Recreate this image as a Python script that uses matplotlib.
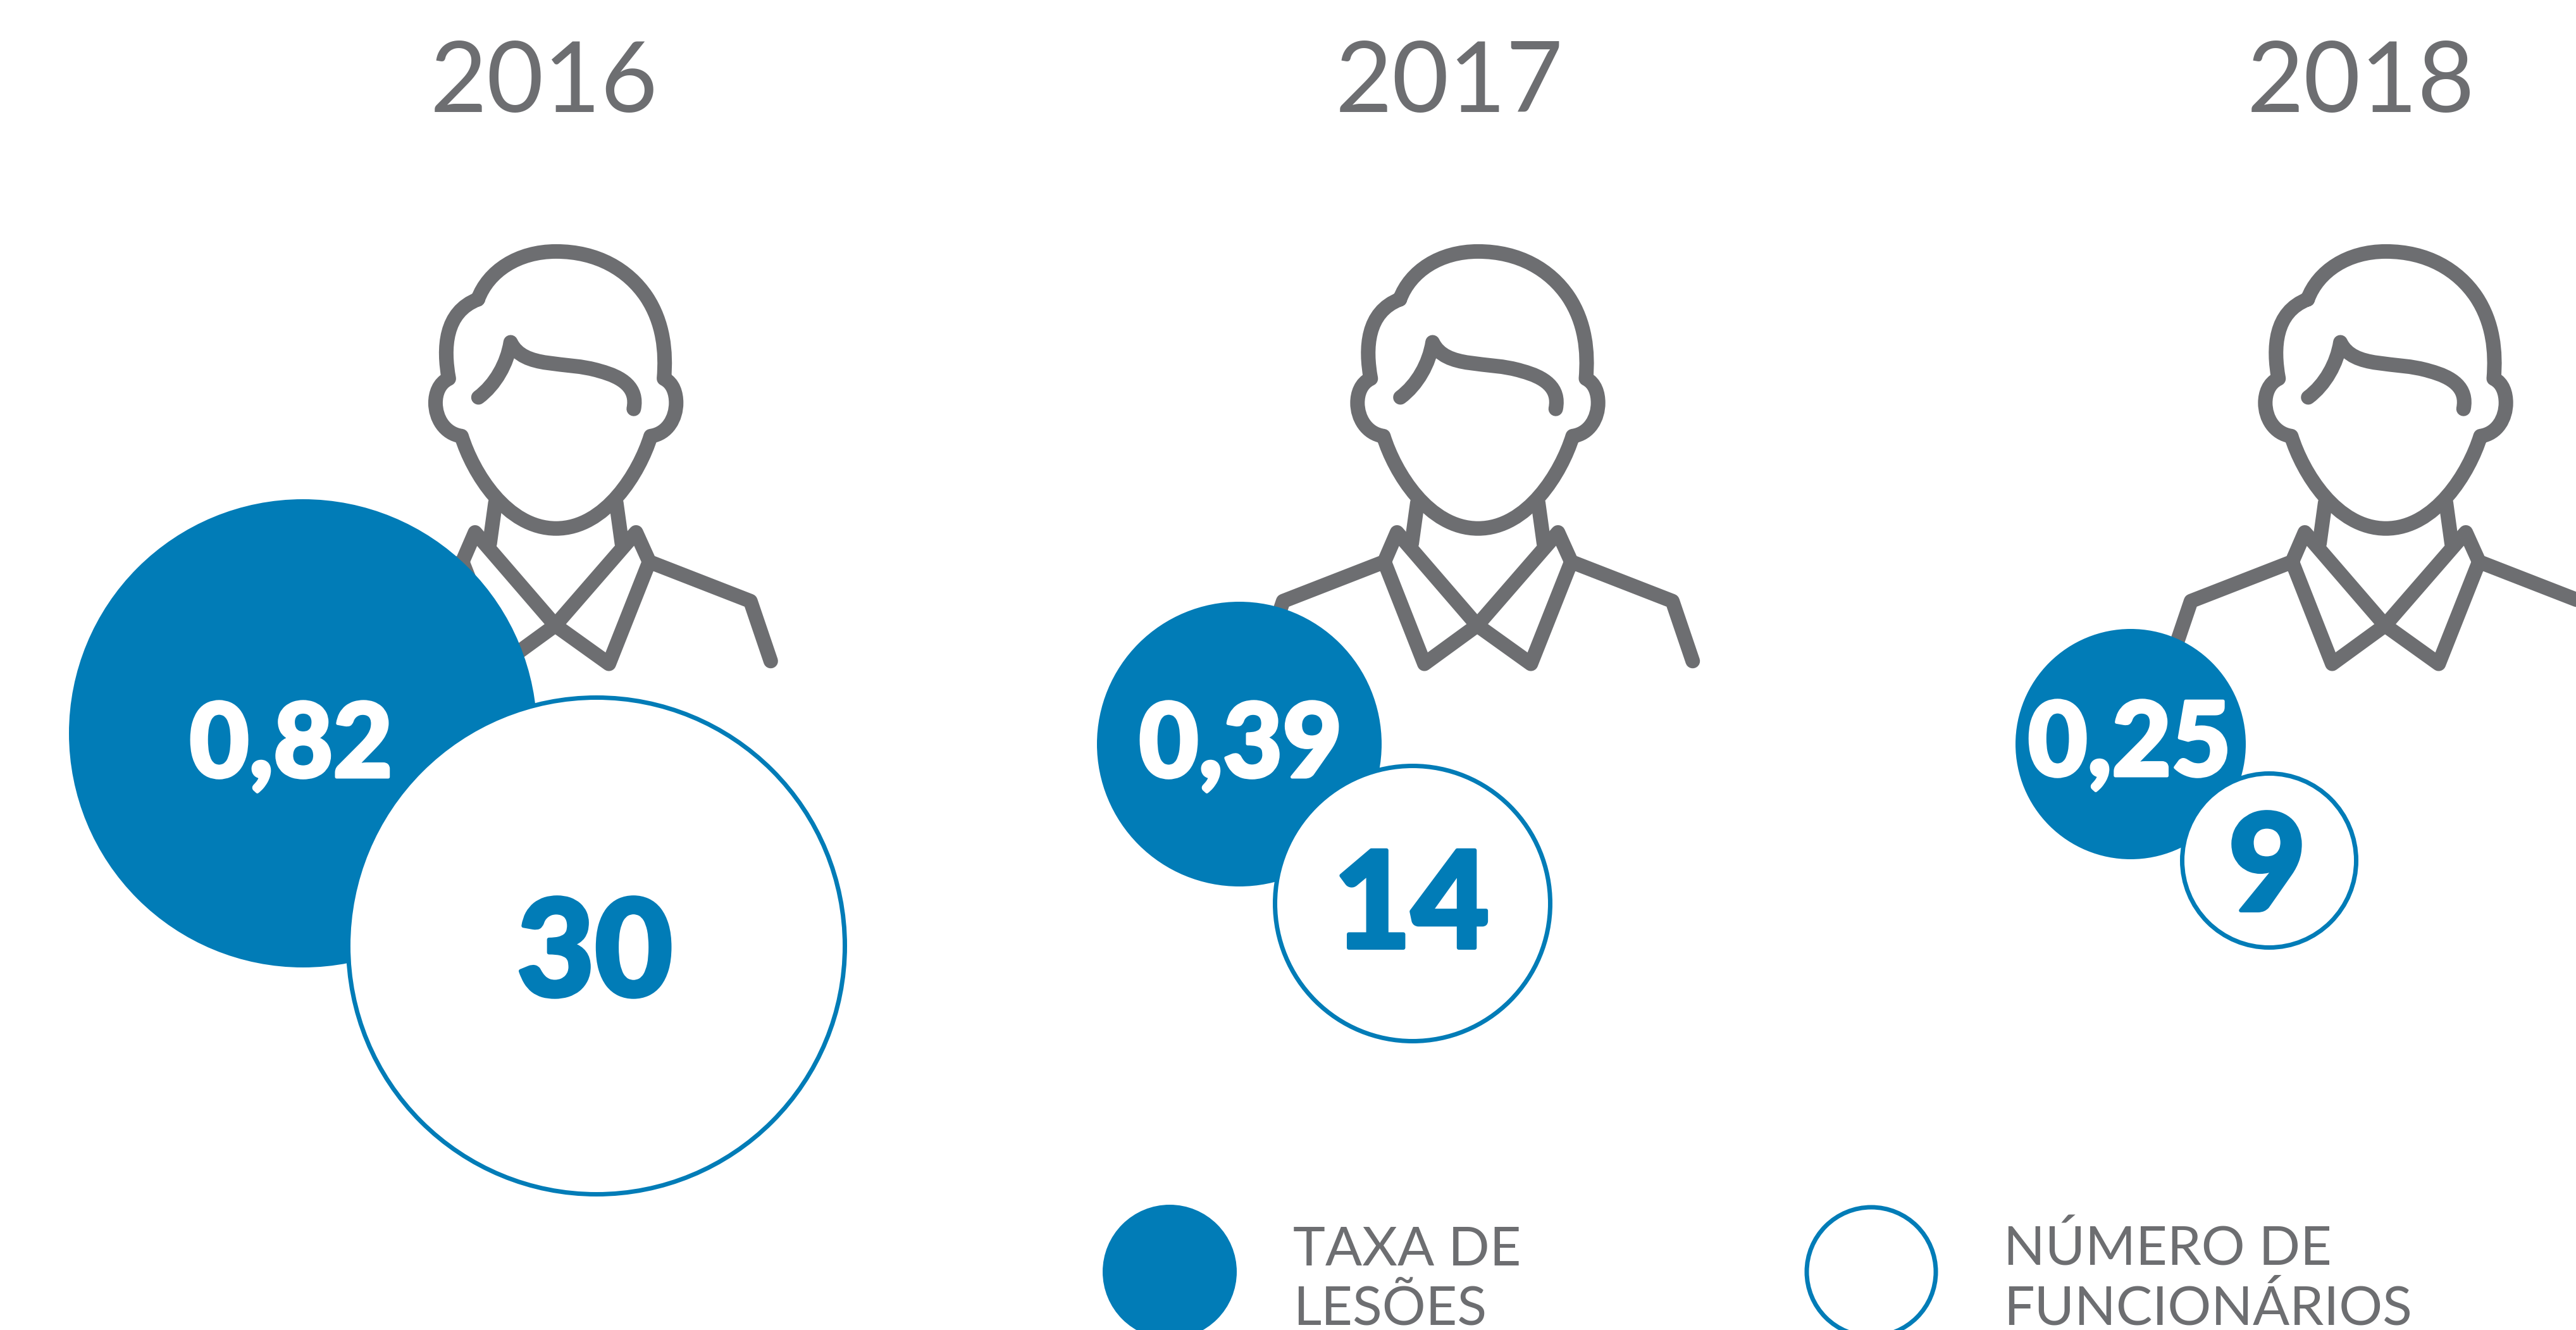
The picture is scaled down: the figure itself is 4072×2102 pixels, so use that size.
import matplotlib
matplotlib.use("Agg")
import matplotlib.pyplot as plt
import matplotlib.patheffects as pe
from matplotlib.patches import Circle, PathPatch
from matplotlib.path import Path

# chart values
years = ["2016", "2017", "2018"]
taxa_lesoes = [0.82, 0.39, 0.25]
num_funcionarios = [30, 14, 9]
legend_labels = ["TAXA DE\nLESÕES", "NÚMERO DE\nFUNCIONÁRIOS"]

# colours
GREY = "#6D6E71"
BLUE = "#017CB7"

# layout, in pixels of the output image
WIDTH, HEIGHT = 4072, 2102
DPI = 100
icon_x = [878.6, 2336, 3771]
year_x = [860, 2291, 3732]
blue_xyr = [(479, 1159, 370), (1959, 1176, 225), (3368, 1176, 182)]
white_xyr = [(943, 1495, 396), (2233, 1428, 221), (3587, 1360, 141)]
blue_label = [(460, 1228), (1961, 1228), (3366, 1226)]
white_label = [(940, 1574), (2231, 1498), (3584, 1439)]


def px(width):
    return width * 72 / DPI


def curve(start, *segments):
    # segments are triples of bezier points, or single points for straight lines
    verts = [start]
    codes = [Path.MOVETO]
    for seg in segments:
        if len(seg) == 3:
            verts.extend(seg)
            codes.extend([Path.CURVE4] * 3)
        else:
            verts.append(seg[0])
            codes.append(Path.LINETO)
    return verts, codes


def icon_paths():
    paths = []
    paths.append(curve(
        (348, 278),
        ((385, 185), (490, 120), (625, 120)),
        ((770, 120), (880, 180), (945, 270)),
        ((1005, 355), (1015, 450), (1007, 540)),
        ((1040, 555), (1050, 590), (1050, 620)),
        ((1050, 670), (1020, 722), (960, 730)),
        ((920, 850), (800, 1035), (625, 1035)),
        ((450, 1035), (330, 850), (290, 730)),
        ((230, 722), (198, 670), (198, 620)),
        ((198, 590), (210, 555), (245, 540)),
        ((225, 440), (230, 320), (348, 278)),
    ))
    paths.append(curve(
        (350, 602),
        ((410, 560), (452, 490), (464, 420)),
        ((510, 510), (660, 480), (780, 515)),
        ((860, 535), (915, 570), (900, 640)),
    ))
    paths.append(curve((410, 950), ((390, 1085),)))
    paths.append(curve((838, 950), ((858, 1085),)))
    paths.append(curve(
        (-137, 1473), ((-65, 1275),), ((293, 1145),), ((338, 1048),),
        ((622, 1355),), ((435, 1482),), ((293, 1145),),
    ))
    paths.append(curve(
        (1385, 1473), ((1313, 1275),), ((955, 1145),), ((908, 1048),),
        ((622, 1355),), ((812, 1482),), ((955, 1145),),
    ))
    return paths


def draw_icon(ax, x0):
    # the crop was stretched differently in x and y
    for verts, codes in icon_paths():
        moved = [(x0 + (x - 624) / 2.24, 340 + y / 2.09) for x, y in verts]
        patch = PathPatch(Path(moved, codes), fill=False, edgecolor=GREY,
                          linewidth=px(23), capstyle="round", joinstyle="round",
                          zorder=1)
        ax.add_patch(patch)


fig = plt.figure(figsize=(WIDTH / DPI, HEIGHT / DPI), dpi=DPI)
ax = fig.add_axes([0, 0, 1, 1])
ax.set_xlim(0, WIDTH)
ax.set_ylim(HEIGHT, 0)
ax.axis("off")

for i, year in enumerate(years):
    ax.text(year_x[i], 177, year, family="Lato", weight="normal", fontsize=112,
            color=GREY, ha="center", va="baseline")
    draw_icon(ax, icon_x[i])

    x, y, r = blue_xyr[i]
    ax.add_patch(Circle((x, y), r, facecolor=BLUE, edgecolor="none", zorder=2))
    x, y, r = white_xyr[i]
    ax.add_patch(Circle((x, y), r - 3.5, facecolor="white", edgecolor=BLUE,
                        linewidth=px(7), zorder=3))

    label = f"{taxa_lesoes[i]:.2f}".replace(".", ",")
    t = ax.text(blue_label[i][0], blue_label[i][1], label, family="Lato", weight="black",
                fontsize=117, color="white", ha="center", va="baseline", zorder=4)
    t.set_path_effects([pe.withStroke(linewidth=px(5), foreground="white")])
    t = ax.text(white_label[i][0], white_label[i][1], str(num_funcionarios[i]), family="Lato",
                weight="black", fontsize=153, color=BLUE, ha="center", va="baseline", zorder=4)
    t.set_path_effects([pe.withStroke(linewidth=px(6), foreground=BLUE)])

# legend, cut by the bottom edge as in the original
ax.add_patch(Circle((1849, 2010), 106, facecolor=BLUE, edgecolor="none"))
ax.add_patch(Circle((2958, 2010), 102, facecolor="white", edgecolor=BLUE, linewidth=px(7)))
for x, label in zip([2044, 3167], legend_labels):
    first, second = label.split("\n")
    ax.text(x, 2000, first, family="Lato", weight="normal", fontsize=62, color=GREY,
            ha="left", va="baseline")
    ax.text(x, 2093, second, family="Lato", weight="normal", fontsize=62, color=GREY,
            ha="left", va="baseline")

fig.savefig("out.png", dpi=DPI, facecolor="white")
plt.close(fig)
